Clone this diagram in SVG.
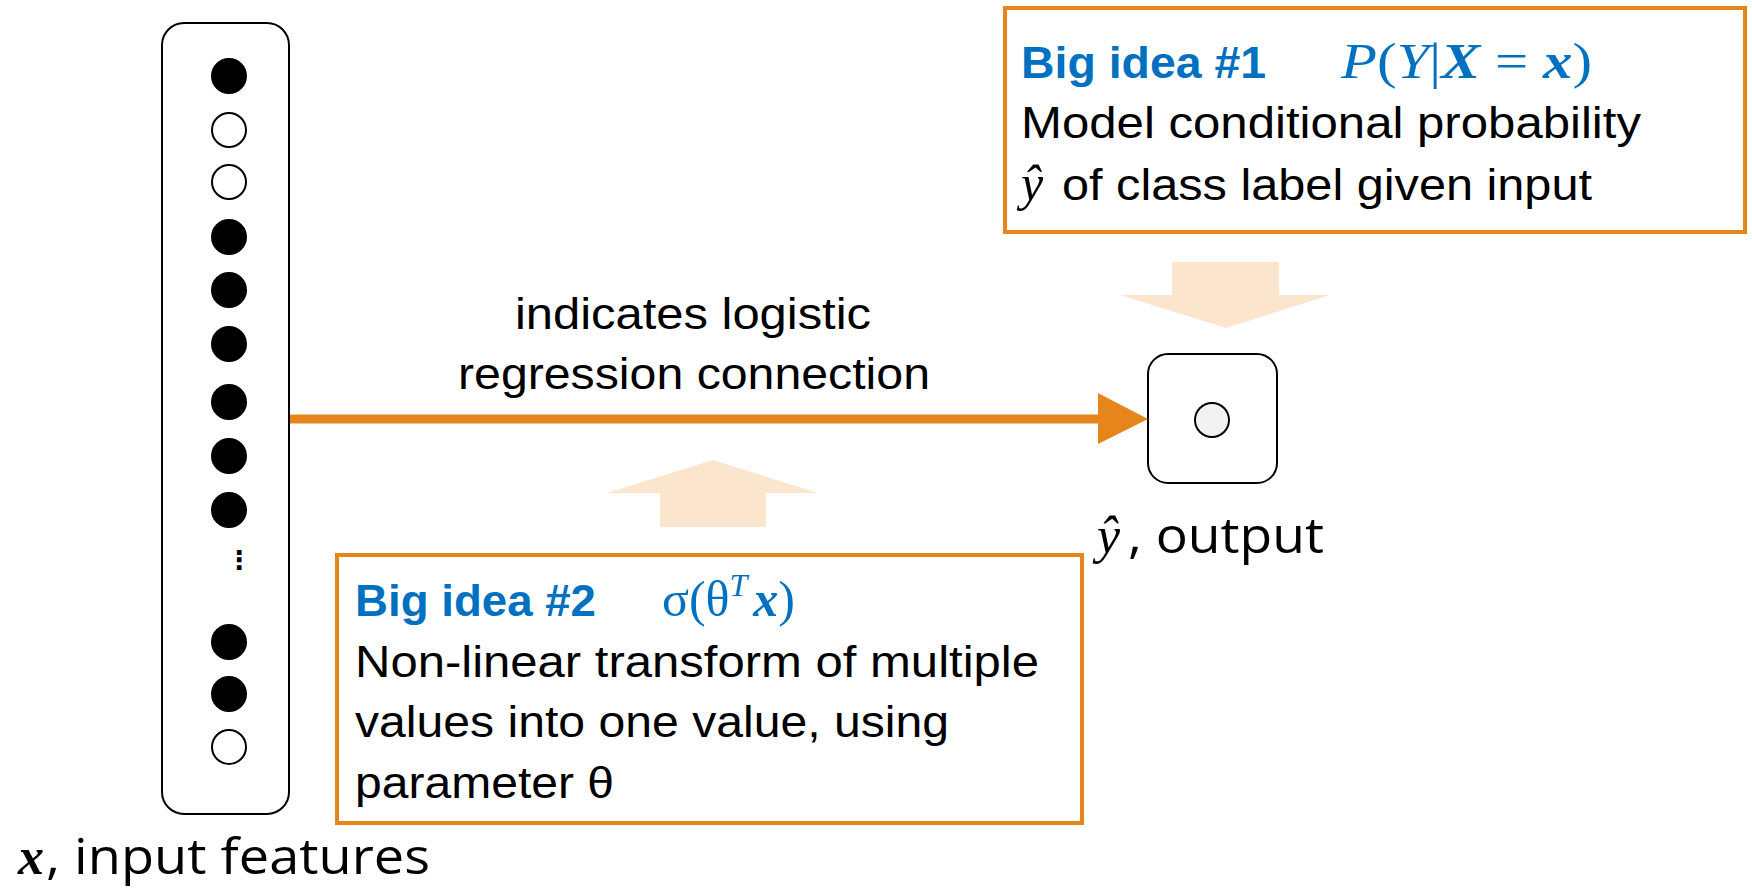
<svg xmlns="http://www.w3.org/2000/svg" width="1752" height="888" viewBox="0 0 1752 888">
<style>
.narrow{font-family:"Liberation Sans Narrow","Liberation Sans",Arial,sans-serif;font-size:45px;fill:#000}
.head{font-family:"Liberation Sans Narrow","Liberation Sans",Arial,sans-serif;font-size:45px;font-weight:bold;fill:#0070c0}
.math{font-family:"Liberation Serif","DejaVu Serif",serif;font-size:50px;fill:#0070c0}
.label{font-family:"Open Sans","Noto Sans","Liberation Sans",sans-serif;font-size:50px;fill:#000}
.mlabel{font-family:"Liberation Serif","DejaVu Serif",serif;font-size:52px;fill:#000}
.idea{fill:#fff;stroke:#e6851c;stroke-width:4}
.node{fill:#fff;stroke:#000;stroke-width:2}
.on{fill:#000;stroke:#000;stroke-width:2}
.off{fill:#fff;stroke:#000;stroke-width:2}
.hint{fill:#fbe5cd}
</style>

<g id="input-features">
<rect class="node" x="162" y="23" width="127" height="791" rx="22" ry="22"/>
<circle class="on" cx="229" cy="76" r="17"/>
<circle class="off" cx="229" cy="130" r="17"/>
<circle class="off" cx="229" cy="182" r="17"/>
<circle class="on" cx="229" cy="237" r="17"/>
<circle class="on" cx="229" cy="290" r="17"/>
<circle class="on" cx="229" cy="344" r="17"/>
<circle class="on" cx="229" cy="402" r="17"/>
<circle class="on" cx="229" cy="456" r="17"/>
<circle class="on" cx="229" cy="510" r="17"/>
<text x="239" y="569" font-family="DejaVu Sans, sans-serif" font-size="26" text-anchor="middle" font-weight="bold">⋮</text>
<circle class="on" cx="229" cy="642" r="17"/>
<circle class="on" cx="229" cy="694" r="17"/>
<circle class="off" cx="229" cy="747" r="17"/>
<text class="mlabel" x="18" y="874" font-style="italic" font-weight="bold">x</text>
<text class="label" x="46" y="874" textLength="384" lengthAdjust="spacingAndGlyphs">, input features</text>
</g>

<g id="output">
<rect class="node" x="1148" y="354" width="129" height="129" rx="20" ry="20"/>
<circle cx="1212" cy="420" r="17" fill="#f2f2f2" stroke="#000" stroke-width="2"/>
<text class="mlabel" x="1097" y="553" font-style="italic">ŷ</text>
<text class="label" x="1128" y="553" textLength="196" lengthAdjust="spacingAndGlyphs">, output</text>
</g>

<g id="big-idea-1">
<rect class="idea" x="1005" y="8" width="740" height="224"/>
<text class="head" x="1021" y="78" textLength="245" lengthAdjust="spacingAndGlyphs">Big idea #1</text>
<text class="math" x="1341" y="78" textLength="251" lengthAdjust="spacingAndGlyphs"><tspan font-style="italic">P</tspan>(<tspan font-style="italic">Y</tspan>|<tspan font-style="italic" font-weight="bold">X</tspan> = <tspan font-style="italic" font-weight="bold">x</tspan>)</text>
<text class="narrow" x="1021" y="138" textLength="620" lengthAdjust="spacingAndGlyphs">Model conditional probability</text>
<text class="math" x="1021" y="200" style="fill:#000" font-style="italic">ŷ</text>
<text class="narrow" x="1062" y="200" textLength="530" lengthAdjust="spacingAndGlyphs">of class label given input</text>
</g>

<g id="big-idea-2">
<rect class="idea" x="337" y="555" width="745" height="268"/>
<text class="head" x="355" y="616" textLength="241" lengthAdjust="spacingAndGlyphs">Big idea #2</text>
<text class="math" x="662" y="616" font-size="52">σ(θ<tspan font-style="italic" font-size="32" dy="-20">T</tspan><tspan font-style="italic" font-weight="bold" dy="20" dx="6">x</tspan>)</text>
<text class="narrow" x="355" y="677" textLength="684" lengthAdjust="spacingAndGlyphs">Non-linear transform of multiple</text>
<text class="narrow" x="355" y="737" textLength="594" lengthAdjust="spacingAndGlyphs">values into one value, using</text>
<text class="narrow" x="355" y="798" textLength="259" lengthAdjust="spacingAndGlyphs">parameter θ</text>
</g>

<g id="connectors">
<line x1="290" y1="419" x2="1100" y2="419" stroke="#e6851c" stroke-width="9"/>
<polygon points="1098,393 1148,419 1098,444" fill="#e6851c"/>
<text class="narrow" x="693" y="329" text-anchor="middle" textLength="356" lengthAdjust="spacingAndGlyphs">indicates logistic</text>
<text class="narrow" x="694" y="389" text-anchor="middle" textLength="472" lengthAdjust="spacingAndGlyphs">regression connection</text>
<polygon class="hint" points="1172,262 1279,262 1279,295 1330,295 1226,328 1120,295 1172,295"/>
<polygon class="hint" points="713,460 818,493 766,493 766,527 660,527 660,493 607,493"/>
</g>
</svg>
